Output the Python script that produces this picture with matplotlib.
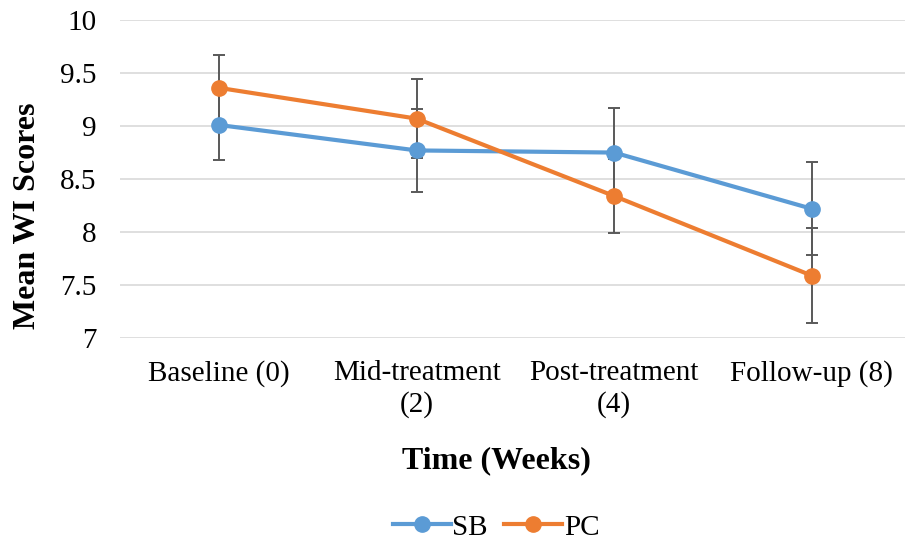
import matplotlib.pyplot as plt

# Data
categories = ['Baseline (0)', 'Mid-treatment\n(2)', 'Post-treatment\n(4)', 'Follow-up (8)']
sb_mean = [9.01, 8.77, 8.75, 8.22]
pc_mean = [9.36, 9.07, 8.34, 7.59]
sb_err = [0.33, 0.39, 0.42, 0.44]
pc_err = [0.31, 0.37, 0.35, 0.45]
y_ticks = [7, 7.5, 8, 8.5, 9, 9.5, 10]

plt.rcParams['font.family'] = ['Liberation Serif', 'DejaVu Serif']

fig = plt.figure(figsize=(9.05, 5.41), dpi=100)
ax = fig.add_axes([0.133, 0.375, 0.873, 0.588])

x = list(range(len(categories)))
err_color = '#595959'

ax.errorbar(x, sb_mean, yerr=sb_err, fmt='none', ecolor=err_color,
            elinewidth=1.4, capsize=4.5, capthick=1.4, zorder=2)
ax.errorbar(x, pc_mean, yerr=pc_err, fmt='none', ecolor=err_color,
            elinewidth=1.4, capsize=4.5, capthick=1.4, zorder=2)
ax.plot(x, sb_mean, color='#5b9bd5', lw=3, marker='o', ms=11, label='SB', zorder=3)
ax.plot(x, pc_mean, color='#ed7d31', lw=3, marker='o', ms=11, label='PC', zorder=3)

ax.set_xlim(-0.5, 3.5)
ax.set_ylim(7, 10)
ax.set_yticks(y_ticks)
ax.set_yticklabels([f'{v:g}' for v in y_ticks])
ax.set_xticks(x)
ax.set_xticklabels(categories, linespacing=1.25)
ax.tick_params(axis='both', length=0, labelsize=21, colors='#000000')
ax.tick_params(axis='x', pad=16)
ax.tick_params(axis='y', pad=17)

ax.grid(axis='y', color='#d9d9d9', lw=1.2)
ax.set_axisbelow(True)
for s in ax.spines.values():
    s.set_visible(False)

ax.set_xlabel('Time (Weeks)', fontsize=23, fontweight='bold')
ax.set_ylabel('Mean WI Scores', fontsize=23, fontweight='bold')
ax.xaxis.set_label_coords(0.476, -0.34)
ax.yaxis.set_label_coords(-0.099, 0.384)

fig.legend(loc='center', bbox_to_anchor=(0.548, 0.025), ncol=2, frameon=False,
           fontsize=21, handlelength=2.0, columnspacing=0.55, handletextpad=0.05)

fig.savefig('out.png', dpi=100)
